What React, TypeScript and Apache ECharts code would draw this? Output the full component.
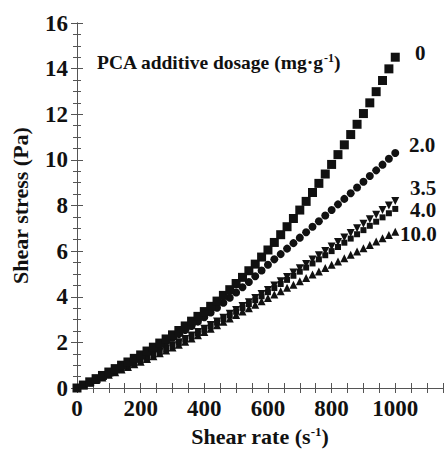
import React, { useEffect, useRef } from "react";
import * as echarts from "echarts";

const shearRate = [0, 20, 40, 60, 80, 100, 120, 140, 160, 180, 200, 220, 240, 260, 280, 300, 320, 340, 360, 380, 400, 420, 440, 460, 480, 500, 520, 540, 560, 580, 600, 620, 640, 660, 680, 700, 720, 740, 760, 780, 800, 820, 840, 860, 880, 900, 920, 940, 960, 980, 1000];

const stress0 = [0, 0.13, 0.27, 0.41, 0.55, 0.70, 0.85, 1.0, 1.14, 1.30, 1.45, 1.62, 1.79, 1.97, 2.15, 2.33, 2.52, 2.72, 2.93, 3.14, 3.35, 3.58, 3.81, 4.06, 4.31, 4.58, 4.85, 5.14, 5.43, 5.74, 6.05, 6.38, 6.72, 7.07, 7.43, 7.80, 8.18, 8.57, 8.97, 9.38, 9.80, 10.23, 10.66, 11.11, 11.56, 12.03, 12.50, 12.99, 13.48, 13.99, 14.5];
const stress2 = [0, 0.13, 0.26, 0.40, 0.54, 0.68, 0.82, 0.96, 1.11, 1.25, 1.40, 1.56, 1.71, 1.87, 2.04, 2.20, 2.37, 2.54, 2.72, 2.91, 3.10, 3.31, 3.52, 3.74, 3.96, 4.19, 4.42, 4.65, 4.90, 5.15, 5.40, 5.64, 5.87, 6.11, 6.35, 6.59, 6.83, 7.07, 7.31, 7.56, 7.80, 8.05, 8.29, 8.54, 8.79, 9.04, 9.29, 9.54, 9.79, 10.05, 10.30];
const stress35 = [0, 0.12, 0.24, 0.36, 0.48, 0.60, 0.72, 0.84, 0.96, 1.08, 1.20, 1.33, 1.46, 1.60, 1.73, 1.87, 2.01, 2.15, 2.30, 2.45, 2.60, 2.76, 2.92, 3.08, 3.25, 3.42, 3.59, 3.76, 3.94, 4.12, 4.30, 4.49, 4.68, 4.87, 5.06, 5.25, 5.44, 5.63, 5.82, 6.01, 6.20, 6.40, 6.60, 6.80, 7.00, 7.20, 7.40, 7.60, 7.80, 8.00, 8.20];
const stress40 = [0, 0.12, 0.24, 0.36, 0.48, 0.60, 0.72, 0.84, 0.96, 1.08, 1.20, 1.32, 1.45, 1.58, 1.71, 1.84, 1.98, 2.12, 2.26, 2.40, 2.55, 2.70, 2.86, 3.02, 3.18, 3.34, 3.51, 3.68, 3.85, 4.02, 4.20, 4.38, 4.56, 4.74, 4.92, 5.10, 5.28, 5.46, 5.64, 5.82, 6.00, 6.18, 6.37, 6.55, 6.74, 6.92, 7.11, 7.29, 7.48, 7.66, 7.85];
const stress100 = [0, 0.12, 0.23, 0.35, 0.46, 0.58, 0.69, 0.81, 0.92, 1.04, 1.15, 1.27, 1.39, 1.52, 1.64, 1.77, 1.90, 2.03, 2.17, 2.31, 2.45, 2.60, 2.75, 2.90, 3.05, 3.20, 3.35, 3.50, 3.65, 3.80, 3.95, 4.10, 4.24, 4.39, 4.53, 4.68, 4.82, 4.97, 5.11, 5.26, 5.40, 5.55, 5.69, 5.84, 5.98, 6.13, 6.27, 6.42, 6.56, 6.71, 6.85];

const dosageLabels = ["0", "2.0", "3.5", "4.0", "10.0"];
const yTicks = [0, 2, 4, 6, 8, 10, 12, 14, 16];

const INK = "#111";
const FONT = "'Liberation Serif', 'Times New Roman', serif";

function pairs(ys: number[]) {
  return shearRate.map((x, i) => [x, ys[i]]);
}

export default function App() {
  const ref = useRef<HTMLDivElement>(null);
  useEffect(() => {
    if (!ref.current) return;
    const chart = echarts.init(ref.current, undefined, { renderer: "svg" });
    const axisLine = { show: true, lineStyle: { color: "#555", width: 1 } };
    const xCommon = {
      type: "value" as const,
      min: 0,
      max: 1150,
      interval: 50,
      axisLine,
      splitLine: { show: false },
      axisTick: { show: true, inside: true, length: 5, lineStyle: { color: "#555" } },
    };
    const yCommon = {
      type: "value" as const,
      min: yTicks[0],
      max: yTicks[yTicks.length - 1],
      interval: 2,
      axisLine,
      splitLine: { show: false },
      axisTick: { show: true, inside: true, length: 6, lineStyle: { color: "#555" } },
      minorTick: { show: true, splitNumber: 4, length: 4, lineStyle: { color: "#555" } },
    };
    const labelStyle = { fontFamily: FONT, fontWeight: "bold" as const, fontSize: 23, color: INK };
    const labelPos: Record<string, [number, number]> = {
      "0": [415, 53],
      "2.0": [409, 145],
      "3.5": [410, 188],
      "4.0": [410, 210],
      "10.0": [400, 234],
    };
    const mk = { color: INK, opacity: 1 };
    const option = {
      animation: false,
      backgroundColor: "#fff",
      grid: { left: 77, top: 23, width: 366, height: 365, containLabel: false, outerBoundsMode: "none" },
      xAxis: [
        {
          ...xCommon,
          position: "bottom",
          name: "{a|Shear rate (s}{s|-1}{a|)}",
          nameLocation: "middle",
          nameGap: 37,
          nameTextStyle: {
            rich: {
              a: { fontFamily: FONT, fontWeight: "bold", fontSize: 22, color: INK },
              s: { fontFamily: FONT, fontWeight: "bold", fontSize: 13, color: INK, verticalAlign: "top", padding: [0, 0, 8, 0] },
            },
          },
          axisLabel: {
            ...labelStyle,
            margin: 9,
            formatter: (v: number) => (v % 200 === 0 && v <= 1000 ? String(v) : ""),
          },
        },
        { ...xCommon, position: "top", axisLabel: { show: false } },
      ],
      yAxis: [
        {
          ...yCommon,
          position: "left",
          name: "Shear stress (Pa)",
          nameLocation: "middle",
          nameGap: 46,
          nameTextStyle: { fontFamily: FONT, fontWeight: "bold", fontSize: 22, color: INK },
          axisLabel: { ...labelStyle, margin: 9 },
        },
        { ...yCommon, position: "right", axisLabel: { show: false } },
      ],
      graphic: [
        {
          type: "text",
          left: 97,
          top: 52,
          style: {
            text: "{a|PCA additive dosage (mg·g}{s|-1}{a|)}",
            rich: {
              a: { fontFamily: FONT, fontWeight: "bold", fontSize: 19.5, fill: INK },
              s: { fontFamily: FONT, fontWeight: "bold", fontSize: 12, fill: INK, verticalAlign: "top", padding: [0, 0, 9, 0] },
            },
          },
        },
        ...dosageLabels.map((t) => ({
          type: "text",
          x: labelPos[t][0],
          y: labelPos[t][1],
          style: {
            text: t,
            fontFamily: FONT,
            fontWeight: "bold",
            fontSize: 21,
            fill: INK,
            textAlign: "left",
            textVerticalAlign: "middle",
          },
        })),
      ],
      series: [
        { name: "10.0", type: "scatter", data: pairs(stress100), symbol: "triangle", symbolSize: 8, itemStyle: mk },
        { name: "4.0", type: "scatter", data: pairs(stress40), symbol: "rect", symbolSize: 6, itemStyle: mk },
        { name: "3.5", type: "scatter", data: pairs(stress35), symbol: "triangle", symbolRotate: 180, symbolSize: 8, itemStyle: mk },
        { name: "2.0", type: "scatter", data: pairs(stress2), symbol: "circle", symbolSize: 8, itemStyle: mk },
        { name: "0", type: "scatter", data: pairs(stress0), symbol: "rect", symbolSize: 9, itemStyle: mk },
      ],
    };
    chart.setOption(option as any);
    return () => chart.dispose();
  }, []);
  return <div ref={ref} style={{ width: 444, height: 450, position: "absolute", left: 0, top: 0 }} />;
}
